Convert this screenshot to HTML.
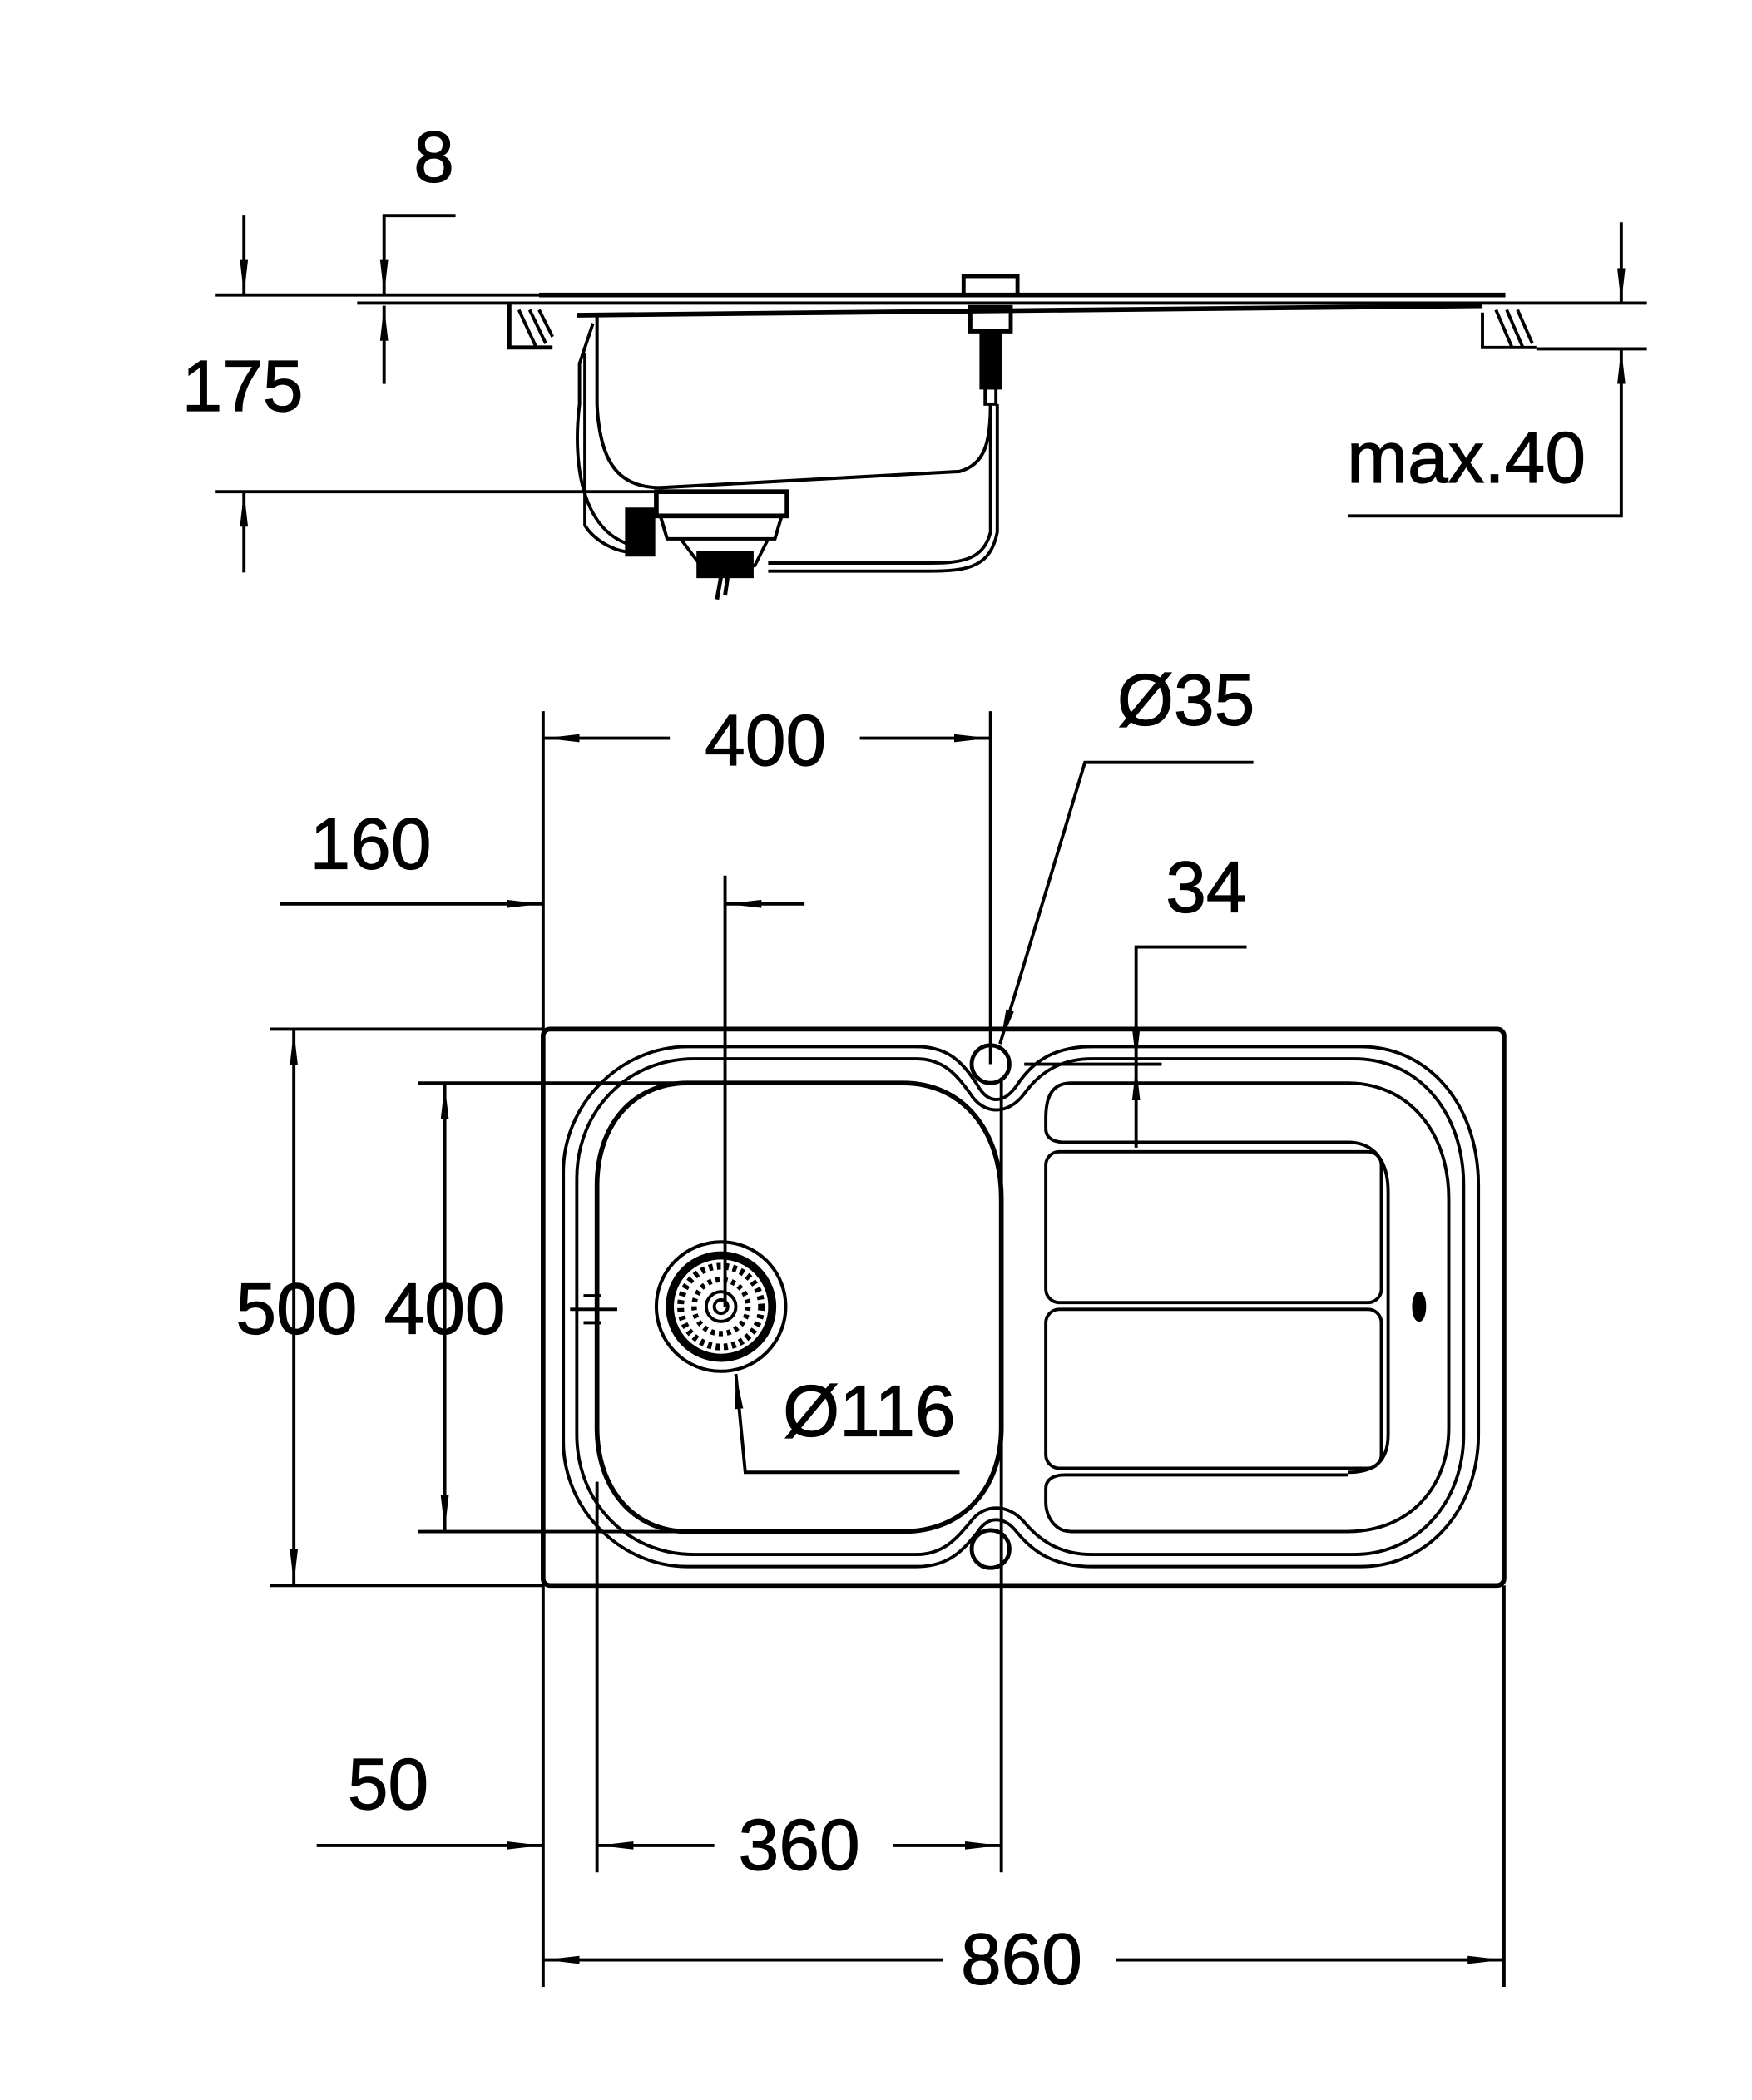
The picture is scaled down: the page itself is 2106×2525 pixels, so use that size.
<!DOCTYPE html>
<html><head><meta charset="utf-8"><style>
html,body{margin:0;padding:0;background:#fff}
svg{display:block}
text{font-family:"Liberation Sans",Arial,sans-serif;fill:#000;stroke:#000;stroke-width:0.7}
</style></head><body>
<svg width="2106" height="2525" viewBox="0 0 1300 1559" preserveAspectRatio="none" xmlns="http://www.w3.org/2000/svg">
<defs>
<marker id="a" viewBox="0 0 26 8" refX="26" refY="4" markerWidth="26" markerHeight="8" markerUnits="userSpaceOnUse" orient="auto"><path d="M0,1 L26,4 L0,7 Z" fill="#000"/></marker>
</defs>
<g fill="none" stroke="#000" stroke-width="2.4">
<line x1="160" y1="219" x2="405" y2="219"/>
<line x1="265" y1="225" x2="1222" y2="225"/>
<line x1="181" y1="160" x2="181" y2="219" marker-end="url(#a)"/>
<line x1="181" y1="425" x2="181" y2="365" marker-end="url(#a)"/>
<line x1="160" y1="365" x2="490" y2="365"/>
<polyline points="338,160 285,160 285,219" marker-end="url(#a)"/>
<line x1="285" y1="285" x2="285" y2="227" marker-end="url(#a)"/>
<line x1="1203" y1="165" x2="1203" y2="225" marker-end="url(#a)"/>
<polyline points="1000,383 1203,383 1203,259" marker-end="url(#a)"/>
<line x1="1140" y1="259" x2="1222" y2="259"/>
<line x1="400" y1="219" x2="1117" y2="219" stroke-width="3.5"/>
<line x1="428" y1="234" x2="1100" y2="227" stroke-width="3.5"/>
<path d="M378,225 V258 H410" stroke-width="3"/>
<path d="M385,230 L398,258 M393,230 L405,255 M400,230 L410,250"/>
<path d="M1100,232 V258 H1140"/>
<path d="M1110,230 L1122,258 M1118,230 L1130,258 M1126,230 L1137,255"/>
<path d="M443,234 V300 C445,345 460,362 490,362 L712,350 C730,345 735,330 735,300" stroke-width="2.5"/>
<path d="M440,240 L430,270 V300 C425,340 430,395 470,405" />
<path d="M434,262 V390 C440,400 455,410 470,410"/>
<path d="M735,300 V395 C730,415 715,418 690,418 H570"/>
<path d="M740,300 V395 C735,420 720,424 690,424 H570"/>
<rect x="715" y="205" width="40" height="14" stroke-width="3"/>
<rect x="720" y="228" width="30" height="18" stroke-width="3"/>
<rect x="728" y="246" width="14" height="42" fill="#000"/>
<rect x="731" y="288" width="8" height="12"/>
<rect x="487" y="365" width="97" height="18" stroke-width="3.5"/>
<path d="M490,383 L495,400 H575 L580,383" stroke-width="2.5"/>
<rect x="465" y="378" width="20" height="34" fill="#000"/>
<path d="M505,400 L520,420 H560 L570,400"/>
<rect x="518" y="410" width="40" height="18" fill="#000"/>
<path d="M535,428 L532,445 M540,428 L538,442" stroke-width="3"/>
<line x1="403" y1="528" x2="403" y2="1475"/>
<line x1="735" y1="528" x2="735" y2="790"/>
<line x1="497" y1="548" x2="404" y2="548" marker-end="url(#a)"/>
<line x1="638" y1="548" x2="734" y2="548" marker-end="url(#a)"/>
<polyline points="930,566 805,566 742,775" marker-end="url(#a)"/>
<line x1="208" y1="671" x2="402" y2="671" marker-end="url(#a)"/>
<line x1="597" y1="671" x2="539" y2="671" marker-end="url(#a)"/>
<line x1="538" y1="650" x2="538" y2="970"/>
<polyline points="925,703 843,703 843,789" marker-end="url(#a)"/>
<line x1="843" y1="852" x2="843" y2="791" marker-end="url(#a)"/>
<line x1="760" y1="790" x2="862" y2="790"/>
<line x1="200" y1="764" x2="403" y2="764"/>
<line x1="200" y1="1177" x2="403" y2="1177"/>
<line x1="218" y1="970" x2="218" y2="765" marker-end="url(#a)"/>
<line x1="218" y1="970" x2="218" y2="1176" marker-end="url(#a)"/>
<line x1="310" y1="804" x2="540" y2="804"/>
<line x1="310" y1="1137" x2="540" y2="1137"/>
<line x1="330" y1="970" x2="330" y2="805" marker-end="url(#a)"/>
<line x1="330" y1="970" x2="330" y2="1136" marker-end="url(#a)"/>
<line x1="443" y1="1100" x2="443" y2="1390"/>
<line x1="743" y1="800" x2="743" y2="1390"/>
<line x1="1116" y1="1177" x2="1116" y2="1475"/>
<line x1="530" y1="1370" x2="444" y2="1370" marker-end="url(#a)"/>
<line x1="663" y1="1370" x2="742" y2="1370" marker-end="url(#a)"/>
<line x1="235" y1="1370" x2="402" y2="1370" marker-end="url(#a)"/>
<line x1="700" y1="1455" x2="404" y2="1455" marker-end="url(#a)"/>
<line x1="828" y1="1455" x2="1115" y2="1455" marker-end="url(#a)"/>
<polyline points="712,1093 553,1093 546,1020" marker-end="url(#a)"/>
<rect x="403" y="764" width="713" height="413" rx="5" stroke-width="3.5"/>
<path d="M510,777 H680 C705,777 715,790 725,805 C733,820 745,820 755,805 C765,790 780,777 810,777 H1010 C1060,777 1097,820 1097,880 V1065 C1097,1120 1060,1163 1010,1163 H810 C780,1163 765,1150 755,1138 C745,1125 733,1125 725,1138 C715,1150 705,1163 680,1163 H510 C460,1163 418,1120 418,1070 V870 C418,820 460,777 510,777 Z"/>
<path d="M515,786 H680 C700,786 710,798 720,812 C730,828 748,828 760,812 C770,798 785,786 810,786 H1005 C1052,786 1086,825 1086,880 V1065 C1086,1115 1052,1154 1005,1154 H810 C785,1154 770,1142 760,1130 C748,1116 730,1116 720,1130 C710,1142 700,1154 680,1154 H515 C465,1154 428,1115 428,1065 V875 C428,825 465,786 515,786 Z"/>
<path d="M510,804 H670 C715,804 743,840 743,890 V1060 C743,1105 715,1137 670,1137 H510 C470,1137 443,1105 443,1060 V880 C443,835 470,804 510,804 Z" stroke-width="3.5"/>
<path d="M795,804 H1000 C1045,804 1075,840 1075,890 V1060 C1075,1105 1045,1137 1000,1137 H795 C782,1137 776,1125 776,1115 V1105 C776,1098 782,1095 790,1095 H1000"/>
<path d="M776,830 C776,812 782,804 795,804 M776,830 V838 C776,845 782,848 790,848 H1000 C1020,848 1030,862 1030,885 V1065 C1030,1085 1020,1093 1000,1093"/>
<rect x="776" y="855" width="249" height="112" rx="10"/>
<rect x="776" y="972" width="249" height="118" rx="10"/>
<ellipse cx="1053" cy="970" rx="4" ry="10" fill="#000"/>
<circle cx="735" cy="790" r="14" stroke-width="3"/>
<circle cx="735" cy="1150" r="14" stroke-width="3"/>
<path d="M433,962 H446 M433,982 H446 M423,972 H458"/>
<circle cx="535" cy="970" r="48" stroke-width="2.5"/>
<circle cx="535" cy="970" r="38" stroke-width="6"/>
<circle cx="535" cy="970" r="30" stroke-dasharray="3 3" stroke-width="5"/>
<circle cx="535" cy="970" r="20" stroke-dasharray="3 3" stroke-width="4"/>
<circle cx="535" cy="970" r="11"/>
<circle cx="535" cy="970" r="5"/>
</g>
<g font-size="54">
<text x="322" y="135" text-anchor="middle">8</text>
<text x="180" y="305" text-anchor="middle">175</text>
<text x="1088" y="358" text-anchor="middle">max.40</text>
<text x="568" y="568" text-anchor="middle">400</text>
<text x="880" y="538" text-anchor="middle">Ø35</text>
<text x="275" y="645" text-anchor="middle">160</text>
<text x="895" y="677" text-anchor="middle">34</text>
<text x="220" y="990" text-anchor="middle">500</text>
<text x="330" y="990" text-anchor="middle">400</text>
<text x="645" y="1066" text-anchor="middle">Ø116</text>
<text x="288" y="1343" text-anchor="middle">50</text>
<text x="593" y="1388" text-anchor="middle">360</text>
<text x="758" y="1473" text-anchor="middle">860</text>
</g>
</svg>
</body></html>
